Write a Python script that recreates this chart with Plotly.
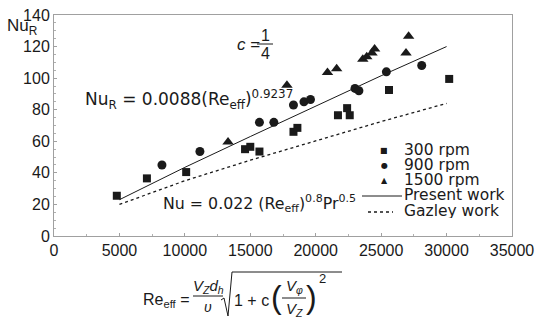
import plotly.graph_objects as go

# ---- data ----
re_300 = [4800, 7100, 10100, 14600, 15000, 15700, 18300, 18600, 21700, 22400, 22600, 25600, 30200]
nu_300 = [25.5, 36.5, 40.5, 55, 56.5, 53.5, 66, 68.5, 76.5, 81, 76.5, 92.5, 99.5]

re_900 = [8250, 11150, 15700, 16800, 18300, 19100, 19600, 23000, 23300, 25400, 28100]
nu_900 = [45, 53.5, 72, 72, 83, 85, 86.5, 93.5, 92, 104, 108]

re_1500 = [13300, 17800, 20900, 21600, 23600, 23900, 24300, 24500, 26900, 27100]
nu_1500 = [59.5, 95.5, 103.5, 106, 112, 113.5, 116, 118.5, 116, 126.5]

re_fit = [5000, 10000, 15000, 20000, 25000, 30000]
nu_present = [23, 43.5, 63, 82.5, 101.5, 120]
nu_gazley = [20, 35, 48, 60.5, 72.5, 84]

x_ticks = [0, 5000, 10000, 15000, 20000, 25000, 30000, 35000]
y_ticks = [0, 20, 40, 60, 80, 100, 120, 140]

FONT = "Liberation Sans"
FONT_W = "DejaVu Sans"
INK = "#1a1a1a"

W, H = 538, 322
L, R, T, B = 54, 26, 15, 86
PW, PH = W - L - R, H - T - B


def px(x):
    return (x - L) / PW


def py(y):
    return (T + PH - y) / PH


fig = go.Figure()
fig.add_trace(go.Scatter(x=re_fit, y=nu_present, mode="lines", name="Present work",
                         line=dict(color=INK, width=1), showlegend=False))
fig.add_trace(go.Scatter(x=re_fit, y=nu_gazley, mode="lines", name="Gazley work",
                         line=dict(color=INK, width=1.3, dash="dot"), showlegend=False))
fig.add_trace(go.Scatter(x=re_300, y=nu_300, mode="markers", name="300 rpm",
                         marker=dict(symbol="square", size=8, color=INK), showlegend=False))
fig.add_trace(go.Scatter(x=re_900, y=nu_900, mode="markers", name="900 rpm",
                         marker=dict(symbol="circle", size=9, color=INK), showlegend=False))
fig.add_trace(go.Scatter(x=re_1500, y=nu_1500, mode="markers", name="1500 rpm",
                         marker=dict(symbol="triangle-up", size=10, color=INK), showlegend=False))

ann = []


def text(x, y, s, size=17, xanchor="left", yanchor="middle", family=FONT, height=None):
    a = dict(x=px(x), y=py(y), xref="paper", yref="paper", text=s, showarrow=False,
             xanchor=xanchor, yanchor=yanchor, borderpad=0,
             font=dict(size=size, color=INK, family=family))
    if height is not None:
        a["height"] = height
    ann.append(a)


shapes = []


def hline(x0, x1, y, dash="solid", width=1):
    shapes.append(dict(type="line", xref="paper", yref="paper", x0=px(x0), x1=px(x1),
                       y0=py(y), y1=py(y), line=dict(color=INK, width=width, dash=dash)))


# y-axis title
text(6, 27, "Nu<sub>R</sub>", size=17)

# c = 1/4
text(236, 44, "<i>c</i> =", size=17)
text(265, 35, "1", size=16, xanchor="center")
text(265, 53, "4", size=16, xanchor="center")
hline(257, 273, 44)

# correlations
text(84, 99, "Nu<sub>R</sub> = 0.0088(Re<sub>eff</sub>)<sup>0.9237</sup>", size=17, family=FONT_W)
text(162, 203, "Nu = 0.022 (Re<sub>eff</sub>)<sup>0.8</sup>Pr<sup>0.5</sup>", size=15.8, family=FONT_W)

# legend (drawn manually to match tight spacing)
legend_rows = [("■", "300 rpm", 150), ("●", "900 rpm", 165), ("▲", "1500 rpm", 180)]
for glyph, label, yy in legend_rows:
    text(384, yy, glyph, size=8, xanchor="center", family=FONT_W, height=10)
    text(403, yy, label, size=15.5, family=FONT_W, height=14)
hline(362, 402, 196)
text(403, 195, "Present work", size=15.5, family=FONT_W, height=14)
hline(368, 393, 212, dash="dot", width=1.3)
text(403, 211, "Gazley work", size=15.5, family=FONT_W, height=14)

# x-axis title: Re_eff = (Vz dh / v) sqrt(1 + c (Vphi/Vz)^2)
text(142, 300, "Re<sub>eff</sub> =", size=16)
text(208, 286, "<i>V<sub>Z</sub>d<sub>h</sub></i>", size=15, xanchor="center")
hline(193, 223, 296)
text(208, 307, "<i>υ</i>", size=14, xanchor="center")
shapes.append(dict(type="path", xref="paper", yref="paper",
                   path=f"M {px(221)},{py(300)} L {px(224)},{py(298)} L {px(228)},{py(316)} "
                        f"L {px(232)},{py(272)} L {px(342)},{py(272)}",
                   line=dict(color=INK, width=1)))
text(233, 300, "1 + c", size=16)
text(276, 297, "(", size=32, xanchor="center")
text(294, 286, "<i>V<sub>φ</sub></i>", size=15, xanchor="center")
hline(282, 306, 298)
text(294, 309, "<i>V<sub>Z</sub></i>", size=15, xanchor="center")
text(311, 297, ")", size=32, xanchor="center")
text(322, 278, "2", size=13, xanchor="center")

axis_common = dict(showgrid=False, zeroline=False, showline=True, linecolor="#a0a0a0",
                   linewidth=1, mirror=True, ticks="inside", ticklen=3, tickcolor="#a0a0a0",
                   automargin=False,
                   tickfont=dict(size=16, color=INK, family=FONT))

fig.update_layout(
    width=W, height=H,
    margin=dict(l=L, r=R, t=T, b=B),
    paper_bgcolor="white", plot_bgcolor="white",
    font=dict(family=FONT, color=INK),
    xaxis=dict(range=[0, 35000], tickmode="array", tickvals=x_ticks,
               ticktext=[str(v) for v in x_ticks],
               minor=dict(dtick=2500, ticks="inside", ticklen=2, tickcolor="#b0b0b0"),
               **axis_common),
    yaxis=dict(range=[0, 140], tickmode="array", tickvals=y_ticks,
               ticktext=[str(v) for v in y_ticks],
               minor=dict(dtick=5, ticks="inside", ticklen=2, tickcolor="#b0b0b0"),
               **axis_common),
    annotations=ann,
    shapes=shapes,
    showlegend=False,
)

fig.write_html("out.html", config={"displayModeBar": False},
               post_script="document.body.style.margin='0';document.body.style.padding='0';")
